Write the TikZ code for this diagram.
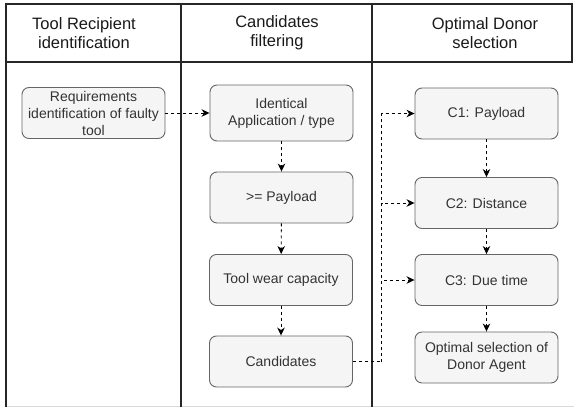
\documentclass[tikz,border=0pt]{standalone}
\usepackage{fontspec}
\setmainfont{Liberation Sans}
\usetikzlibrary{arrows.meta}
\definecolor{boxfill}{HTML}{F5F5F5}
\definecolor{boxline}{HTML}{666666}
\definecolor{boxtext}{HTML}{333333}
\tikzset{
  lane/.style={line width=1.2pt, draw=black!85},
  stepbox/.style={draw=boxline, fill=boxfill, rounded corners=7pt, line width=0.9pt,
    minimum width=143pt, minimum height=51pt, align=center, text=boxtext,
    font=\fontsize{14}{17}\selectfont, inner sep=2pt},
  head/.style={align=center, font=\fontsize{16.5}{19}\selectfont, text=black!90},
  flow/.style={line width=0.9pt, dash pattern=on 3pt off 3pt,
    -{Stealth[length=8pt,width=7.5pt,inset=2.5pt]}},
  flowline/.style={line width=0.9pt, dash pattern=on 3pt off 3pt}
}
\begin{document}
\begin{tikzpicture}[x=1pt,y=-1pt]
\useasboundingbox (0,0) rectangle (574,407);
% swimlane frame
\draw[black!15, line width=0.8pt] (6,406) -- (574,406);
\draw[lane] (6,4) rectangle (572,62);
\draw[lane] (6,62) -- (6,407);
\draw[lane] (181,4) -- (181,407);
\draw[lane] (372,4) -- (372,407);
% lane titles
\node[head] (h1) at (84,33) {Tool Recipient\\identification};
\node[head] (h2) at (277,33) {Candidates\\filtering};
\node[head] (h3) at (485,33) {Optimal Donor\\selection};
% steps
\node[stepbox] (req) at (93.5,113) {Requirements\\identification of faulty\\tool};
\node[stepbox, minimum height=56pt] (ident) at (281.5,113) {Identical\\Application / type};
\node[stepbox] (pay) at (281.5,197.5) {>= Payload};
\node[stepbox] (wear) at (281,280) {Tool wear capacity};
\node[stepbox] (cand) at (281,361.5) {Candidates};
\node[stepbox] (c1) at (486.5,113.5) {C1: Payload};
\node[stepbox] (c2) at (486.5,203) {C2: Distance};
\node[stepbox] (c3) at (486.5,280) {C3: Due time};
\node[stepbox] (opt) at (486.5,357.5) {Optimal selection of\\Donor Agent};
% connectors
\coordinate (split) at (381.5,361.5);
\draw[flow] (req.east) -- (ident.west |- req.east);
\draw[flow] (ident) -- (pay);
\draw[flow] (pay) -- (wear);
\draw[flow] (wear) -- (cand);
\draw[flowline] (cand.east) -- (split);
\draw[flow] (split) |- (c1.west);
\draw[flow] (split) |- (c2.west);
\draw[flow] (split) |- (c3.west);
\draw[flow] (c1) -- (c2);
\draw[flow] (c2) -- (c3);
\draw[flow] (c3) -- (opt);
\end{tikzpicture}
\end{document}
